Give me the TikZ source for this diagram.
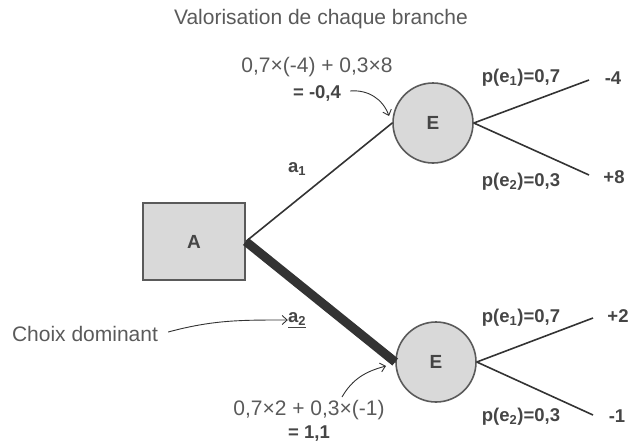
\documentclass[tikz,border=0pt]{standalone}
\usepackage{fontspec}
\setmainfont{Liberation Sans}
\usetikzlibrary{arrows.meta}
\definecolor{txt}{HTML}{5A5A5A}
\definecolor{btxt}{HTML}{454545}
\definecolor{ln}{HTML}{333333}
\definecolor{shfill}{HTML}{D9D9D9}
\definecolor{shdraw}{HTML}{5A5A5A}
\begin{document}
\begin{tikzpicture}[x=1pt,y=-1pt,
  reg/.style={text=txt,font=\fontsize{21}{23}\selectfont,inner sep=0pt},
  bld/.style={text=btxt,font=\fontsize{18.5}{20}\selectfont\bfseries,inner sep=0pt},
  dec/.style={draw=shdraw,fill=shfill,line width=1.6pt,minimum width=102pt,minimum height=77pt,inner sep=0pt,text=btxt,font=\fontsize{19}{20}\selectfont\bfseries},
  chance/.style={circle,draw=shdraw,fill=shfill,line width=1.6pt,minimum size=80pt,inner sep=0pt,text=btxt,font=\fontsize{19}{20}\selectfont\bfseries},
  branch/.style={draw=ln,line width=1.6pt},
  note/.style={draw=ln,line width=0.9pt,-{Straight Barb[length=5pt,width=9pt]}}
]
\useasboundingbox (0,0) rectangle (628,442);

\node[reg] (title) at (321,19) {Valorisation de chaque branche};

\node[dec] (A) at (194,241.5) {A};
\node[chance] (E1) at (433,123) {E};
\node[chance] (E2) at (436,362) {E};

\draw[branch] (A.east) -- (E1.west);
\draw[draw=ln,line width=9pt] (A.east) -- (E2.west);

\coordinate (t1) at (589,80);
\coordinate (t2) at (589,175);
\coordinate (t3) at (593,318);
\coordinate (t4) at (593,415);
\draw[branch] (E1.east) -- (t1);
\draw[branch] (E1.east) -- (t2);
\draw[branch] (E2.east) -- (t3);
\draw[branch] (E2.east) -- (t4);

\node[bld] (v1) at (613,78) {-4};
\node[bld] (v2) at (614,177) {+8};
\node[bld] (v3) at (618,316) {+2};
\node[bld] (v4) at (617,416) {-1};

\node[bld] (p1) at (521,78) {p(e\textsubscript{1})=0,7};
\node[bld] (p2) at (521,182) {p(e\textsubscript{2})=0,3};
\node[bld] (p3) at (521,318) {p(e\textsubscript{1})=0,7};
\node[bld] (p4) at (521,417) {p(e\textsubscript{2})=0,3};

\node[bld] (a1) at (297,169) {a\textsubscript{1}};
\node[bld] (a2) at (297,320) {\underline{a\textsubscript{2}}};

\node[reg] (choix) at (85,334) {Choix dominant};
\draw[note] (choix.east) ++(10pt,2pt) coordinate (c0) (c0) to[out=15,in=180] (a2.west);

\node[reg] (f1) at (317,67) {0,7×(-4) + 0,3×8};
\node[bld] (r1) at (317,93) {= -0,4};
\coordinate (k1) at (389,116);
\draw[note] (r1.east) ++(9pt,2pt) coordinate (r1s) (r1s) to[out=5,in=110] (k1);

\node[reg] (f2) at (309,410) {0,7×2 + 0,3×(-1)};
\node[bld] (r2) at (309,434) {= 1,1};
\coordinate (k2) at (386,366);
\coordinate (r2s) at (342,397);
\draw[note] (r2s) to[out=60,in=195] (k2);
\end{tikzpicture}
\end{document}
